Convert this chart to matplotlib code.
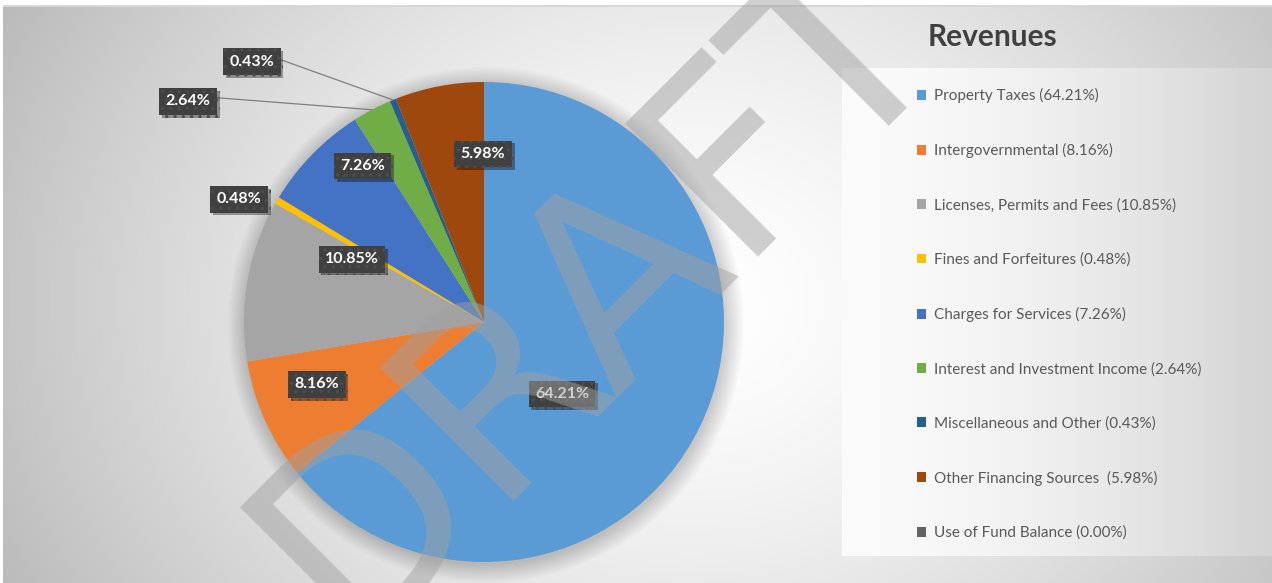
import numpy as np
import matplotlib.pyplot as plt
from matplotlib.patches import Circle
from matplotlib import patheffects as pe

# revenue shares (%), clockwise from 12 o'clock
categories = ['Property Taxes', 'Intergovernmental', 'Licenses, Permits and Fees',
              'Fines and Forfeitures', 'Charges for Services', 'Interest and Investment Income',
              'Miscellaneous and Other', 'Other Financing Sources ', 'Use of Fund Balance']
shares = [64.21, 8.16, 10.85, 0.48, 7.26, 2.64, 0.43, 5.98, 0.00]
colors = ['#5B9BD5', '#ED7D31', '#A5A5A5', '#FFC000', '#4472C4',
          '#70AD47', '#255E91', '#9E480E', '#636363']

# label box centres, in pie-radius units (Excel "best fit" placement)
label_pos = [(0.325, -0.30), (-0.696, -0.26), (-0.55, 0.262), (-1.021, 0.512),
             (-0.506, 0.65), (-1.233, 0.919), (-0.967, 1.085), (-0.004, 0.70), None]
leader = [False, False, False, False, False, True, True, False, False]

W, H = 1272, 583
cx, cy, R = 484, 322, 240        # pie centre / radius in pixels (from top-left)
FONT = ['Lato', 'DejaVu Sans']
plt.rcParams['hatch.linewidth'] = 1.2

fig = plt.figure(figsize=(W / 100, H / 100), dpi=100)

# background: radial grey gradient + lighter legend panel
bg = fig.add_axes([0, 0, 1, 1])
bg.set_axis_off()
yy, xx = np.mgrid[0:H, 0:W]
t = np.sqrt(((xx - 690) / 720.0) ** 2 + ((yy - 300) / 600.0) ** 2)
img = 255 - 62 * np.clip(t, 0, 1.2) ** 1.5
panel = (xx >= 842) & (yy >= 68) & (yy <= 555)
img[panel] = 251 - 40 * ((xx[panel] - 842) / 430.0) ** 1.6
img[yy < 6] = 255
img[xx < 3] = 255
img[5:7, 3:] = 215
img = np.clip(img, 0, 255) / 255.0
bg.imshow(np.dstack([img, img, img]), extent=(0, W, H, 0), aspect='auto', interpolation='bilinear')
bg.set_xlim(0, W)
bg.set_ylim(H, 0)

# pie axes, 1 data unit = pie radius
ax = fig.add_axes([0, 0, 1, 1])
for k in range(16):
    ax.add_patch(Circle((0.008, -0.012), 1.0 + 0.005 * k, color='k', alpha=0.012, lw=0, zorder=0))
wedges, _ = ax.pie(shares, colors=colors, startangle=90, counterclock=False,
                   wedgeprops=dict(linewidth=0), frame=True)
ax.set_xlim(-cx / R, (W - cx) / R)
ax.set_ylim(-(H - cy) / R, cy / R)
ax.set_axis_off()

box = dict(boxstyle='square,pad=0.4', fc='#404040', ec='#4d4d4d', lw=0, hatch='..')
shadow = [pe.SimplePatchShadow(offset=(2, -2), shadow_rgbFace='k', alpha=0.35), pe.Normal()]
for w, v, pos, line in zip(wedges, shares, label_pos, leader):
    if pos is None:
        continue
    txt = '%.2f%%' % v
    if line:
        mid = np.deg2rad((w.theta1 + w.theta2) / 2)
        t_ = ax.annotate(txt, xy=(np.cos(mid), np.sin(mid)), xytext=pos,
                         ha='center', va='center', color='white', fontsize=11.5,
                         fontweight='bold', family=FONT, bbox=box, zorder=5,
                         arrowprops=dict(arrowstyle='-', color='#7f7f7f', lw=0.9,
                                         shrinkA=0, shrinkB=0, relpos=(1.0, 0.8)))
    else:
        t_ = ax.text(pos[0], pos[1], txt, ha='center', va='center', color='white',
                     fontsize=11.5, fontweight='bold', family=FONT, bbox=box, zorder=5)
    t_.get_bbox_patch().set_path_effects(shadow)

# legend
fig.text(993 / W, 1 - 37 / H, 'Revenues', ha='center', va='center', fontsize=21.5,
         fontweight='bold', color='#404040', family=FONT)
leg_labels = ['%s (%.2f%%)' % (c, v) for c, v in zip(categories, shares)]
fig.legend(wedges, leg_labels, loc='upper left', bbox_to_anchor=(917 / W, 1 - 88 / H),
           frameon=False, prop={'family': FONT, 'size': 11}, labelcolor='#595959',
           handlelength=0.62, handleheight=0.62, handletextpad=0.52,
           labelspacing=2.62, borderpad=0, borderaxespad=0)

# DRAFT watermark
fig.text(648 / W, 1 - 341 / H, 'DRAFT', rotation=45, rotation_mode='anchor',
         ha='center', va='baseline', fontsize=186, color='#a0a0a0', alpha=0.5,
         family='DejaVu Sans', zorder=10)

fig.savefig('out.png', dpi=100)
